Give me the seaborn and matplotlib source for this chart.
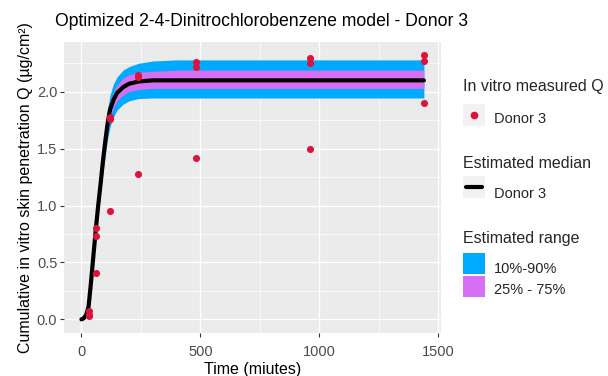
import matplotlib
matplotlib.use("Agg")
import matplotlib.pyplot as plt
from matplotlib.patches import Rectangle
from matplotlib.lines import Line2D
import numpy as np
import pandas as pd
import seaborn as sns

# Measured cumulative penetration (three replicates per sampling time)
obs_time = [30, 30, 30, 60, 60, 60, 120, 120, 120, 240, 240, 240,
            480, 480, 480, 960, 960, 960, 1440, 1440, 1440]
obs_q = [0.07, 0.04, 0.03, 0.80, 0.73, 0.41, 1.78, 1.76, 0.95, 2.15, 2.13, 1.28,
         2.26, 2.22, 1.42, 2.30, 2.25, 1.50, 2.32, 2.27, 1.90]

# Model prediction: median and percentile envelopes
pred_time = [0, 10, 20, 30, 40, 50, 60, 70, 80, 90, 100, 110, 120, 135, 150,
             175, 200, 240, 300, 400, 1440]
pred_med = [0.0, 0.01, 0.04, 0.11, 0.32, 0.55, 0.78, 0.99, 1.18, 1.38, 1.56,
            1.72, 1.84, 1.93, 1.99, 2.04, 2.07, 2.09, 2.10, 2.10, 2.10]
pred_p90 = [0.0, 0.01, 0.05, 0.13, 0.35, 0.59, 0.83, 1.05, 1.26, 1.48, 1.68,
            1.85, 1.97, 2.07, 2.13, 2.19, 2.22, 2.25, 2.27, 2.28, 2.28]
pred_p75 = [0.0, 0.01, 0.045, 0.12, 0.335, 0.57, 0.80, 1.02, 1.22, 1.43, 1.62,
            1.79, 1.91, 2.00, 2.06, 2.12, 2.15, 2.17, 2.18, 2.19, 2.19]
pred_p25 = [0.0, 0.01, 0.035, 0.10, 0.305, 0.53, 0.76, 0.96, 1.14, 1.33, 1.50,
            1.65, 1.77, 1.86, 1.92, 1.97, 2.00, 2.02, 2.03, 2.03, 2.03]
pred_p10 = [0.0, 0.01, 0.03, 0.09, 0.29, 0.51, 0.73, 0.93, 1.10, 1.28, 1.44,
            1.58, 1.69, 1.78, 1.84, 1.89, 1.92, 1.94, 1.945, 1.945, 1.945]

x_ticks = [0, 500, 1000, 1500]
y_ticks = [0.0, 0.5, 1.0, 1.5, 2.0]

donor = "Donor 3"
range_labels = ["10%-90%", "25% - 75%"]

col_obs = "#DC143C"
col_outer = "#00AAFF"
col_inner = "#D76FF2"
col_panel = "#EBEBEB"
col_tick = "#4D4D4D"

sns.set_theme(style="darkgrid", rc={
    "axes.facecolor": col_panel,
    "grid.color": "white",
    "axes.edgecolor": col_panel,
})
plt.rcParams["font.family"] = ["Liberation Sans", "DejaVu Sans"]

W, H = 608, 376
fig = plt.figure(figsize=(W / 100, H / 100), dpi=100)


def fx(px):
    return px / W


def fy(py):
    return 1 - py / H


left, right, top, bottom = 64.3, 441.0, 42.0, 332.7
ax = fig.add_axes([fx(left), fy(bottom), fx(right) - fx(left), fy(top) - fy(bottom)])

obs = pd.DataFrame({"time": obs_time, "Q": obs_q})
pred = pd.DataFrame({"time": pred_time, "med": pred_med, "p10": pred_p10,
                     "p25": pred_p25, "p75": pred_p75, "p90": pred_p90})

ax.fill_between(pred["time"], pred["p10"], pred["p90"], color=col_outer,
                linewidth=0, zorder=2)
ax.fill_between(pred["time"], pred["p25"], pred["p75"], color=col_inner,
                linewidth=0, zorder=3)
sns.lineplot(data=pred, x="time", y="med", color="black", linewidth=3,
             ax=ax, zorder=4, legend=False)
sns.scatterplot(data=obs, x="time", y="Q", color=col_obs, s=26,
                linewidth=0, ax=ax, zorder=5, legend=False)

ax.set_xlim(-72, 1512)
ax.set_ylim(-0.117, 2.437)
ax.set_xticks(x_ticks)
ax.set_yticks(y_ticks)
ax.set_yticklabels([f"{v:.1f}" for v in y_ticks])
ax.set_xticks([250, 750, 1250], minor=True)
ax.set_yticks([0.25, 0.75, 1.25, 1.75, 2.25], minor=True)
ax.grid(which="major", color="white", linewidth=1.0)
ax.grid(which="minor", color="white", linewidth=0.5)
ax.tick_params(which="major", direction="out", length=3, width=0.8,
               color="#333333", labelcolor=col_tick, labelsize=10.5, pad=2,
               bottom=True, left=True)
ax.tick_params(axis="x", which="major", pad=5.6)
ax.tick_params(which="minor", length=0)
for s in ax.spines.values():
    s.set_visible(False)

ax.set_xlabel("Time (miutes)", fontsize=11.5, color="black", labelpad=2.5)
ax.set_ylabel("Cumulative in vitro skin penetration Q (µg/cm²)", fontsize=11.5,
              color="black", labelpad=3)

fig.text(fx(55), fy(22), "Optimized 2-4-Dinitrochlorobenzene model - Donor 3",
         fontsize=12.7, ha="left", va="center", color="black")

# Legend blocks
key_bg = "#F2F2F2"
lx = 463
kw = 22


def ttl(y, s):
    fig.text(fx(lx), fy(y), s, fontsize=11.5, ha="left", va="center")


def lbl(y, s):
    fig.text(fx(494), fy(y), s, fontsize=10.5, ha="left", va="center")


def key_box(y0, h, color):
    fig.add_artist(Rectangle((fx(lx), fy(y0 + h)), fx(kw), h / H,
                             transform=fig.transFigure, facecolor=color,
                             edgecolor="none"))


ttl(87, "In vitro measured Q")
key_box(104, kw, key_bg)
fig.add_artist(Line2D([fx(lx + kw / 2)], [fy(104 + kw / 2)], marker="o",
                      markersize=4.5, color=col_obs, linestyle="none",
                      transform=fig.transFigure))
lbl(119, donor)

ttl(163, "Estimated median")
key_box(176, kw, key_bg)
fig.add_artist(Line2D([fx(lx + 3), fx(lx + kw - 3)], [fy(187), fy(187)],
                      color="black", linewidth=3, transform=fig.transFigure))
lbl(194, donor)

ttl(239, "Estimated range")
key_box(253, 21, col_outer)
key_box(276, 21, col_inner)
lbl(269, range_labels[0])
lbl(290, range_labels[1])

fig.savefig("out.png", dpi=100)
